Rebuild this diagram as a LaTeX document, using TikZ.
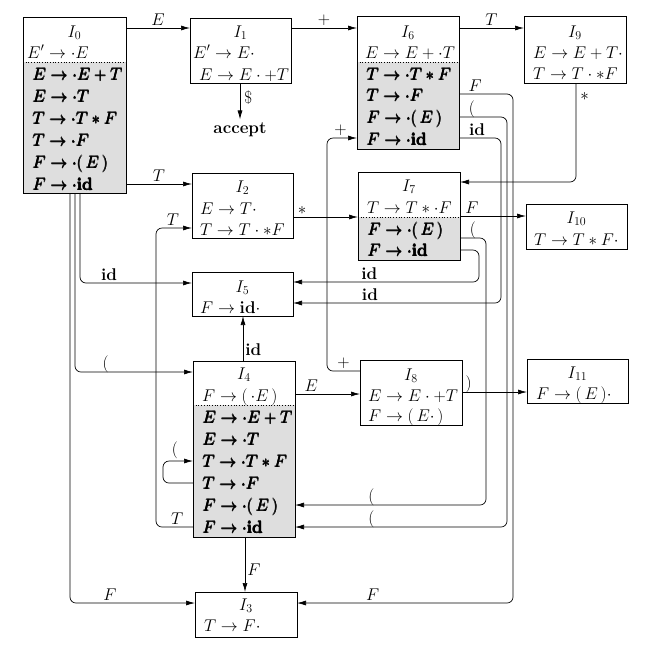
\RequirePackage{fix-cm}
\documentclass[tikz,border=0pt]{standalone}
\usetikzlibrary{arrows.meta,backgrounds}
\DeclareMathSizes{17}{17}{12}{10}
\newcommand\fatrow[1]{\leavevmode\rlap{#1}\rlap{\kern0.6pt#1}\rlap{\kern0.3pt\raisebox{0.4pt}{#1}}\kern0.6pt#1}
\begin{document}
\begin{tikzpicture}[x=1pt,y=-1pt,
  every node/.style={font=\fontsize{17}{21}\selectfont},
  box/.style={draw, line width=0.8pt, inner sep=0pt, outer sep=0pt, anchor=north west},
  row/.style={anchor=base west, inner sep=0pt},
  ttl/.style={anchor=base, inner sep=0pt},
  lab/.style={inner sep=2pt},
  plab/.style={inner sep=2pt, above, yshift=-3pt},
  arr/.style={draw, line width=0.7pt, rounded corners=6pt, -{Latex[length=9pt,width=5pt]}},
  clos/.style={fill=black!13},
  sep/.style={dotted, line width=0.7pt}]
\useasboundingbox (0,0) rectangle (660,649);

% ---------- boxes ----------
\node[box, minimum width=103pt, minimum height=176pt] (I0) at (23,17) {};
\node[box, minimum width=101pt, minimum height=65pt]  (I1) at (190,18) {};
\node[box, minimum width=101pt, minimum height=65pt]  (I2) at (192,173) {};
\node[box, minimum width=102pt, minimum height=45pt]  (I3) at (195,592) {};
\node[box, minimum width=102pt, minimum height=176pt] (I4) at (193,361) {};
\node[box, minimum width=101pt, minimum height=44pt]  (I5) at (192,272) {};
\node[box, minimum width=102pt, minimum height=133pt] (I6) at (357,16) {};
\node[box, minimum width=102pt, minimum height=88pt]  (I7) at (358,172) {};
\node[box, minimum width=102pt, minimum height=65pt]  (I8) at (360,360) {};
\node[box, minimum width=102pt, minimum height=67pt]  (I9) at (524,16) {};
\node[box, minimum width=101pt, minimum height=45pt]  (I10) at (526,204) {};
\node[box, minimum width=101pt, minimum height=44pt]  (I11) at (527,359) {};

\begin{scope}[on background layer]
  \fill[clos] (I0.west |- 0,62) rectangle (I0.south east);
  \fill[clos] (I6.west |- 0,62) rectangle (I6.south east);
  \fill[clos] (I7.west |- 0,217) rectangle (I7.south east);
  \fill[clos] (I4.west |- 0,405) rectangle (I4.south east);
\end{scope}
\draw[sep] (I0.west |- 0,62) -- (I0.east |- 0,62);
\draw[sep] (I6.west |- 0,62) -- (I6.east |- 0,62);
\draw[sep] (I7.west |- 0,217) -- (I7.east |- 0,217);
\draw[sep] (I4.west |- 0,405) -- (I4.east |- 0,405);

% ---------- I0 ----------
\node[ttl] (t0) at (74.5,37) {$I_0$};
\node[row] (r0a) at (27,58)  {$E'\to\cdot E$};
\node[row] (r0b) at (32,80)  {\fatrow{$E\to\cdot E+T$}};
\node[row] (r0c) at (32,102) {\fatrow{$E\to\cdot T$}};
\node[row] (r0d) at (32,124) {\fatrow{$T\to\cdot T*F$}};
\node[row] (r0e) at (32,146) {\fatrow{$T\to\cdot F$}};
\node[row] (r0f) at (32,168) {\fatrow{$F\to\cdot(\,E\,)$}};
\node[row] (r0g) at (32,190) {\fatrow{$F\to\cdot\mathbf{id}$}};
% ---------- I1 ----------
\node[ttl] (t1) at (240.5,37) {$I_1$};
\node[row] (r1a) at (193,58) {$E'\to E\cdot$};
\node[row] (r1b) at (199,80) {$E\to E\cdot+T$};
% ---------- I2 ----------
\node[ttl] (t2) at (242.5,192) {$I_2$};
\node[row] (r2a) at (200,214) {$E\to T\cdot$};
\node[row] (r2b) at (200,235) {$T\to T\cdot*F$};
% ---------- I3 ----------
\node[ttl] (t3) at (246,610) {$I_3$};
\node[row] (r3a) at (204,631) {$T\to F\cdot$};
% ---------- I4 ----------
\node[ttl] (t4) at (244,379) {$I_4$};
\node[row] (r4a) at (202,401) {$F\to(\,\cdot E\,)$};
\node[row] (r4b) at (202,423) {\fatrow{$E\to\cdot E+T$}};
\node[row] (r4c) at (202,445) {\fatrow{$E\to\cdot T$}};
\node[row] (r4d) at (202,467) {\fatrow{$T\to\cdot T*F$}};
\node[row] (r4e) at (202,489) {\fatrow{$T\to\cdot F$}};
\node[row] (r4f) at (202,511) {\fatrow{$F\to\cdot(\,E\,)$}};
\node[row] (r4g) at (202,533) {\fatrow{$F\to\cdot\mathbf{id}$}};
% ---------- I5 ----------
\node[ttl] (t5) at (242.5,292) {$I_5$};
\node[row] (r5a) at (200,313) {$F\to\mathbf{id}\cdot$};
% ---------- I6 ----------
\node[ttl] (t6) at (408,37) {$I_6$};
\node[row] (r6a) at (365,58)  {$E\to E+\cdot T$};
\node[row] (r6b) at (366,80)  {\fatrow{$T\to\cdot T*F$}};
\node[row] (r6c) at (366,101) {\fatrow{$T\to\cdot F$}};
\node[row] (r6d) at (366,123) {\fatrow{$F\to\cdot(\,E\,)$}};
\node[row] (r6e) at (366,145) {\fatrow{$F\to\cdot\mathbf{id}$}};
% ---------- I7 ----------
\node[ttl] (t7) at (409,191) {$I_7$};
\node[row] (r7a) at (367,213) {$T\to T*\cdot F$};
\node[row] (r7b) at (367,235) {\fatrow{$F\to\cdot(\,E\,)$}};
\node[row] (r7c) at (367,256) {\fatrow{$F\to\cdot\mathbf{id}$}};
% ---------- I8 ----------
\node[ttl] (t8) at (411,380) {$I_8$};
\node[row] (r8a) at (368,401) {$E\to E\cdot+T$};
\node[row] (r8b) at (368,421) {$F\to(\,E\cdot\,)$};
% ---------- I9 ----------
\node[ttl] (t9) at (575,37) {$I_9$};
\node[row] (r9a) at (533,58) {$E\to E+T\cdot$};
\node[row] (r9b) at (533,79) {$T\to T\cdot*F$};
% ---------- I10 ----------
\node[ttl] (t10) at (576.5,223) {$I_{10}$};
\node[row] (r10a) at (534,245) {$T\to T*F\cdot$};
% ---------- I11 ----------
\node[ttl] (t11) at (577.5,378) {$I_{11}$};
\node[row] (r11a) at (536,399) {$F\to(\,E\,)\cdot$};
% ---------- accept ----------
\node (acc) at (240,130) {\textbf{accept}};

% ---------- connectors ----------
\draw[arr] (I0.east |- 0,28) -- node[lab,above]{$E$} (I1.west |- 0,28);
\draw[arr] (I1.east |- 0,28) -- node[lab,above]{$+$} (I6.west |- 0,28);
\draw[arr] (I6.east |- 0,28) -- node[lab,above]{$T$} (I9.west |- 0,28);
\draw[arr] (I1.south -| 240,0) -- node[lab,right,pos=.4,xshift=2pt]{\$} (acc.north);
\draw[arr] (I0.east |- 0,184) -- node[lab,above]{$T$} (I2.west |- 0,184);
\draw[arr] (I0.south -| 80,0) |- node[lab,above,pos=.63]{\textbf{id}} (I5.west |- 0,283);
\draw[arr] (I0.south -| 75,0) |- node[plab,pos=.63]{(} (I4.west |- 0,372);
\draw[arr] (I0.south -| 70,0) |- node[lab,above,pos=.66]{$F$} (I3.west |- 0,603);
\draw[arr] (I2.east |- 0,217) -- node[lab,above,pos=.14]{$*$} (I7.west |- 0,217);
\draw[arr] (I8.west |- 0,371) -- node[lab,above,pos=.5]{$+$} (327,371) -- (327,138)
           -- node[lab,above,pos=.45]{$+$} (I6.west |- 0,138);
\draw[arr] (I9.south -| 576,0) |- node[lab,right,pos=.07,xshift=2pt]{$*$} (I7.east |- 0,182);
\draw[arr] (I6.east |- 0,94) -- node[lab,above,pos=.3]{$F$} (513,94) -- (513,603)
           -- node[lab,above,pos=.65]{$F$} (I3.east |- 0,603);
\draw[arr] (I6.east |- 0,117) -- node[plab,pos=.27]{(} (507,117) -- (507,527)
           -- node[plab,pos=.64]{(} (I4.east |- 0,527);
\draw[arr] (I6.east |- 0,138) -- node[lab,above,pos=.43]{\textbf{id}} (501,138) -- (501,303)
           -- node[lab,above,pos=.63]{\textbf{id}} (I5.east |- 0,303);
\draw[arr] (I7.east |- 0,216) -- node[lab,above,pos=.18]{$F$} (I10.west |- 0,216);
\draw[arr] (I7.east |- 0,238) -- node[plab,pos=.5]{(} (486,238) -- (486,505)
           -- node[plab,pos=.6]{(} (I4.east |- 0,505);
\draw[arr] (I7.east |- 0,250) -- (479,250) -- (479,282)
           -- node[lab,above,pos=.59]{\textbf{id}} (I5.east |- 0,282);
\draw[arr] (I4.north -| 243,0) -- node[lab,right,pos=.25]{\textbf{id}} (I5.south -| 243,0);
\draw[arr] (I4.east |- 0,394) -- node[lab,above,pos=.25]{$E$} (I8.west |- 0,394);
\draw[arr] (I8.east |- 0,392) -- node[plab,pos=.1]{)} (I11.west |- 0,392);
\draw[arr] (I4.west |- 0,483) -- (163,483) -- (163,461)
           -- node[lab,above,pos=.4]{(} (I4.west |- 0,461);
\draw[arr] (I4.west |- 0,527) -- node[lab,above,pos=.43]{$T$} (156,527) -- (156,228)
           -- node[lab,above,pos=.47]{$T$} (I2.west |- 0,228);
\draw[arr] (I4.south -| 245,0) -- node[lab,right,pos=.6]{$F$} (I3.north -| 245,0);
\end{tikzpicture}
\end{document}
